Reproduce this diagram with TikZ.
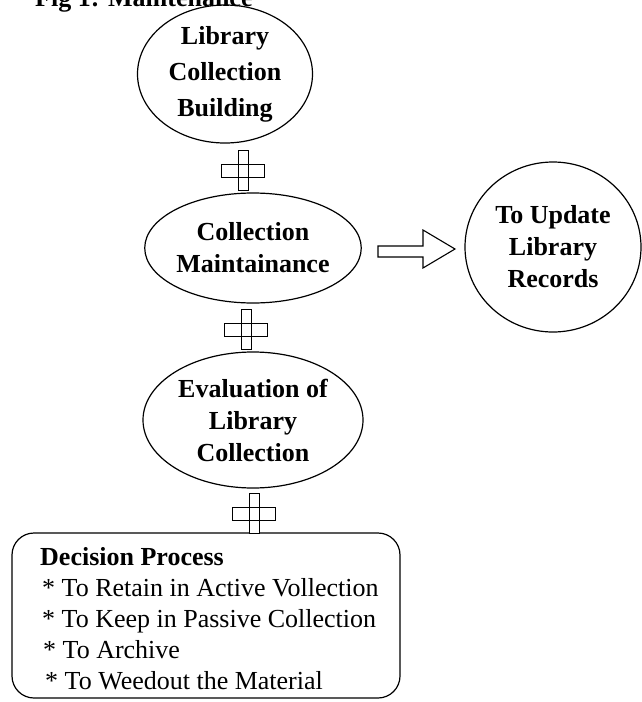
\documentclass[tikz,border=0pt]{standalone}
\usepackage{fontspec}
\setmainfont{Liberation Serif}
\usetikzlibrary{shapes.geometric,calc}
\tikzset{
  oval/.style={draw, ellipse, line width=1.2pt, inner sep=0pt, align=center,
    font=\fontsize{26}{32}\selectfont\bfseries},
  decbox/.style={draw, rectangle, rounded corners=22pt, line width=1.2pt, inner sep=0pt},
  boxline/.style={anchor=base west, inner sep=0pt, font=\fontsize{26}{30}\selectfont},
  plussign/.pic={
    \draw[line width=1pt, fill=white]
      (-5,-20) -- (5,-20) -- (5,-6.5) -- (21.5,-6.5) -- (21.5,6.5) -- (5,6.5)
      -- (5,20) -- (-5,20) -- (-5,6.5) -- (-21.5,6.5) -- (-21.5,-6.5) -- (-5,-6.5) -- cycle;
    \draw[line width=0.8pt] (-5,-6.5) -- (-5,6.5) (5,-6.5) -- (5,6.5)
      (-5,-6.5) -- (5,-6.5) (-5,6.5) -- (5,6.5);
  }
}
\begin{document}
\begin{tikzpicture}[x=1pt,y=-1pt]
\useasboundingbox (0,0) rectangle (641,702);
% clipped title
\node[anchor=base west, inner sep=0pt, font=\fontsize{26}{30}\selectfont\bfseries] (title) at (35,6) {Fig 1: Maintenance};
% nodes
\node[oval, minimum width=175pt, minimum height=138pt, font=\fontsize{26}{36}\selectfont\bfseries] (build) at (225,74) {Library\\Collection\\Building};
\node[oval, minimum width=212pt, minimum height=110pt] (maint) at (253,248) {Collection\\Maintainance};
\node[oval, minimum width=220pt, minimum height=136pt] (eval) at (253,420) {Evaluation of\\Library\\Collection};
\node[oval, minimum width=176pt, minimum height=170pt] (rec) at (553,247) {To Update\\Library\\Records};
\node[decbox, minimum width=388pt, minimum height=165pt] (dec) at (206,615.5) {};
\node[boxline, font=\fontsize{26}{30}\selectfont\bfseries] (d0) at (40,565) {Decision Process};
\node[boxline] (d1) at (42,596) {* To Retain in Active Vollection};
\node[boxline] (d2) at (42,627) {* To Keep in Passive Collection};
\node[boxline] (d3) at (43,658) {* To Archive};
\node[boxline] (d4) at (45,689) {* To Weedout the Material};
% plus connectors between the nodes
\coordinate (p1) at ($(build.south)+(18,27)$);
\coordinate (p2) at ($(maint.south)+(-7,26)$);
\coordinate (p3) at ($(eval.south)+(1,25)$);
\pic at (p1) {plussign};
\pic at (p2) {plussign};
\pic at (p3) {plussign};
% block arrow from maint to rec
\draw[line width=1.1pt, fill=white]
  (378,246) -- (423,246) -- (423,230) -- (455,249) -- (423,268) -- (423,257) -- (378,257) -- cycle;
\end{tikzpicture}
\end{document}
